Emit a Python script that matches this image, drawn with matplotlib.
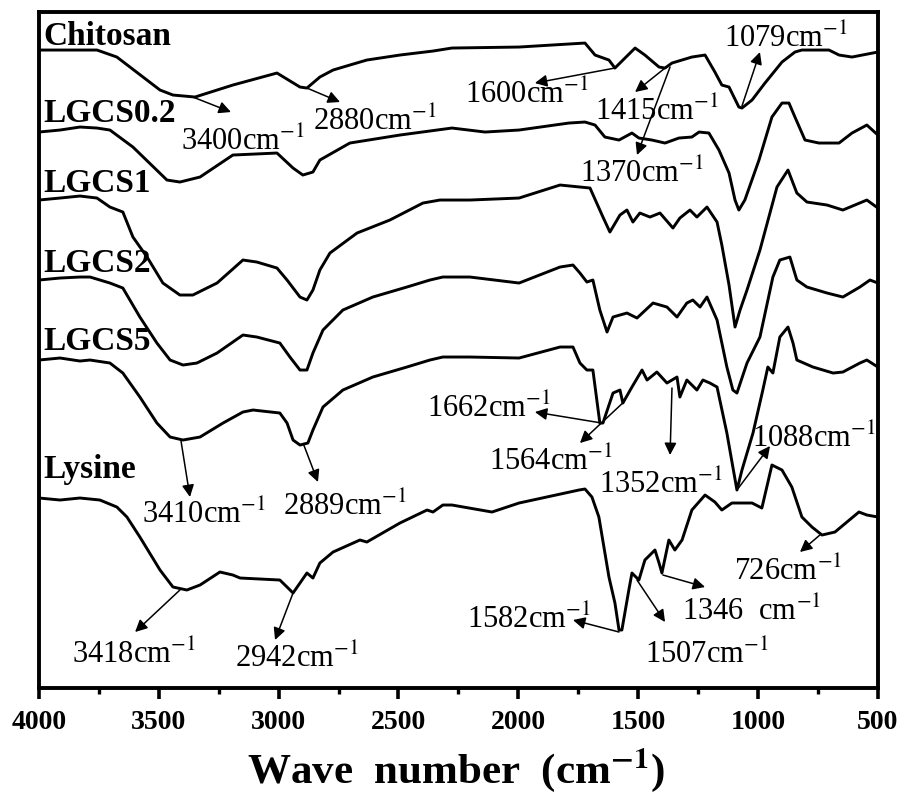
import matplotlib
matplotlib.use("Agg")
import matplotlib.pyplot as plt

plt.rcParams['font.family'] = ['Liberation Serif', 'DejaVu Serif']
plt.rcParams['mathtext.fontset'] = 'stix'

# Spectra: wavenumber (cm-1) and stacked transmittance (a.u.)
chitosan_wn = [4000, 3758, 3675, 3495, 3441, 3349, 3191, 3007, 2911, 2882, 2828, 2773, 2703, 2632,
               2494, 2356, 2277, 1997, 1860, 1722, 1680, 1622, 1597, 1555, 1513, 1472, 1413, 1388,
               1359, 1276, 1221, 1180, 1151, 1121, 1080, 1067, 1025, 971, 900, 846, 817, 704, 662,
               608, 500]
chitosan_t = [638, 638, 631, 598, 593, 591, 603, 615, 601, 600, 611, 618, 623, 628,
              633, 637, 640, 641, 643, 645, 633, 628, 620, 630, 640, 633, 621, 620,
              625, 631, 633, 616, 603, 601, 581, 580, 588, 605, 626, 636, 638, 638, 633,
              631, 636]

lgcs02_wn = [4000, 3912, 3829, 3758, 3704, 3608, 3466, 3412, 3328, 3191, 3007, 2940, 2899, 2857,
             2828, 2703, 2494, 2277, 2139, 1997, 1789, 1722, 1680, 1639, 1580, 1526, 1497, 1443,
             1388, 1330, 1276, 1246, 1205, 1163, 1121, 1096, 1080, 1055, 996, 942, 900, 871,
             846, 804, 746, 662, 608, 546, 500]
lgcs02_t = [556, 558, 561, 560, 558, 541, 508, 506, 511, 533, 535, 520, 513, 516,
            528, 545, 553, 560, 556, 558, 565, 566, 563, 551, 548, 555, 550, 548,
            545, 550, 551, 556, 555, 538, 515, 488, 478, 488, 528, 571, 585, 585,
            571, 548, 545, 545, 555, 563, 553]

lgcs1_wn = [4000, 3912, 3829, 3758, 3704, 3650, 3608, 3549, 3483, 3412, 3358, 3257, 3149, 3091,
            3007, 2965, 2911, 2882, 2857, 2828, 2786, 2673, 2536, 2398, 2327, 2202, 1997, 1826,
            1701, 1647, 1618, 1576, 1547, 1522, 1493, 1451, 1409, 1355, 1326, 1284, 1255, 1213,
            1171, 1151, 1121, 1096, 1075, 1046, 992, 921, 875, 838, 796, 712, 646, 546, 500]
lgcs1_t = [488, 490, 492, 490, 481, 476, 451, 431, 405, 393, 393, 405, 428, 426,
           420, 408, 391, 388, 398, 418, 435, 455, 468, 485, 488, 488, 490, 503,
           500, 471, 456, 473, 478, 466, 475, 471, 475, 460, 470, 478, 471, 481,
           466, 443, 403, 361, 378, 398, 438, 501, 518, 495, 486, 483, 478, 488, 480]

lgcs2_wn = [4000, 3912, 3829, 3787, 3704, 3650, 3579, 3508, 3453, 3399, 3341, 3257, 3149, 3091,
            2995, 2953, 2911, 2882, 2857, 2815, 2732, 2607, 2465, 2369, 2315, 2202, 1997, 1826,
            1772, 1743, 1714, 1689, 1660, 1630, 1605, 1547, 1505, 1438, 1380, 1338, 1297, 1272,
            1242, 1213, 1171, 1130, 1105, 1088, 1046, 992, 938, 909, 867, 838, 796, 712, 646,
            575, 533, 500]
lgcs2_t = [408, 410, 411, 411, 405, 400, 371, 345, 328, 323, 325, 335, 353, 351,
           345, 331, 318, 318, 335, 358, 378, 391, 401, 408, 411, 411, 405, 421,
           423, 415, 406, 408, 378, 356, 371, 375, 370, 385, 381, 371, 385, 388,
           381, 391, 368, 321, 298, 295, 325, 351, 411, 428, 431, 408, 401, 395, 391,
           401, 408, 405]

lgcs5_wn = [4000, 3912, 3829, 3787, 3704, 3650, 3579, 3508, 3453, 3399, 3328, 3232, 3149, 3107,
            2995, 2965, 2940, 2911, 2878, 2857, 2815, 2732, 2607, 2465, 2369, 2315, 2202, 1997,
            1826, 1772, 1743, 1714, 1689, 1660, 1647, 1605, 1576, 1564, 1526, 1484, 1463, 1422,
            1380, 1338, 1326, 1297, 1255, 1230, 1201, 1171, 1130, 1105, 1088, 1067, 1021, 980,
            959, 938, 909, 875, 854, 838, 771, 687, 646, 575, 546, 500]
lgcs5_t = [328, 330, 327, 328, 325, 315, 291, 265, 251, 248, 251, 265, 276, 278,
           275, 265, 248, 243, 245, 258, 281, 298, 311, 321, 328, 331, 331, 330,
           341, 341, 325, 318, 318, 265, 265, 295, 298, 285, 301, 318, 308, 316,
           305, 311, 291, 308, 298, 308, 305, 301, 255, 221, 198, 218, 255, 298,
           321, 315, 351, 361, 345, 328, 321, 315, 316, 325, 328, 321]

lysine_wn = [4000, 3912, 3829, 3746, 3675, 3633, 3579, 3495, 3441, 3383, 3328, 3245, 3191, 3161,
             2995, 2965, 2940, 2911, 2882, 2857, 2828, 2773, 2661, 2632, 2494, 2381, 2356, 2315,
             2277, 2110, 1997, 1747, 1722, 1693, 1664, 1622, 1597, 1580, 1568, 1539, 1526, 1497,
             1472, 1430, 1413, 1401, 1372, 1347, 1317, 1276, 1221, 1180, 1151, 1109, 1025, 984,
             942, 900, 859, 817, 775, 733, 679, 579, 546, 500]
lysine_t = [190, 188, 190, 188, 181, 171, 151, 118, 101, 98, 103, 116, 113, 110,
            108, 101, 95, 105, 115, 110, 125, 136, 148, 146, 165, 178, 176, 183,
            183, 176, 185, 198, 199, 191, 171, 111, 85, 58, 58, 98, 115, 108,
            128, 138, 125, 115, 148, 138, 148, 178, 193, 186, 178, 185, 185, 180,
            223, 218, 201, 171, 161, 153, 156, 176, 173, 171]

spectra = [
    ("Chitosan", chitosan_wn, chitosan_t, (3983, 643)),
    ("LGCS0.2", lgcs02_wn, lgcs02_t, (3983, 566)),
    ("LGCS1", lgcs1_wn, lgcs1_t, (3983, 496)),
    ("LGCS2", lgcs2_wn, lgcs2_t, (3983, 416)),
    ("LGCS5", lgcs5_wn, lgcs5_t, (3983, 338)),
    ("Lysine", lysine_wn, lysine_t, (3983, 210)),
]

# peak labels: text, text anchor, arrow start (on curve), arrow tip
peaks = [
    ("3400", (3408, 538), (3358, 591), (3199, 576)),
    ("2880", (2857, 558), (2882, 600), (2744, 586)),
    ("1600", (2223, 585), (1597, 620), (1931, 605)),
    ("1415", (1680, 568), (1388, 620), (1513, 596)),
    ("1370", (1743, 506), (1367, 621), (1505, 533)),
    ("1079", (1142, 641), (1067, 582), (992, 636)),
    ("1662", (2381, 271), (1652, 265), (1931, 276)),
    ("1564", (2123, 218), (1560, 286), (1743, 245)),
    ("1352", (1664, 195), (1359, 300), (1367, 233)),
    ("1088", (1025, 241), (1088, 198), (950, 242)),
    ("3410", (3570, 165), (3408, 248), (3370, 191)),
    ("2889", (2982, 173), (2895, 243), (2836, 206)),
    ("3418", (3862, 25), (3412, 98), (3599, 56)),
    ("2942", (3182, 21), (2940, 95), (3015, 48)),
    ("1582", (2214, 60), (1580, 56), (1772, 68)),
    ("1507", (1472, 25), (1505, 108), (1388, 66)),
    ("1346  ", (1317, 68), (1397, 113), (1221, 101)),
    ("726", (1100, 108), (742, 153), (825, 136)),
]

fig = plt.figure(figsize=(9.04, 7.92), dpi=100)
ax = fig.add_axes([0.0431, 0.1313, 0.928, 0.8535])

for name, wn, t, pos in spectra:
    ax.plot(wn, t, color='black', lw=2.1, solid_joinstyle='round')
    ax.text(pos[0], pos[1], name, fontsize=24, fontweight='bold', ha='left', va='baseline')

for label, tpos, start, tip in peaks:
    ax.annotate('', xy=tip, xytext=start,
                arrowprops=dict(arrowstyle='-|>', color='black', lw=1.1,
                                mutation_scale=18, shrinkA=0, shrinkB=0))
    ax.text(tpos[0], tpos[1], label + "cm$^{-1}$", fontsize=22, ha='left', va='baseline')

ax.set_xlim(4000, 500)
ax.set_ylim(0, 676)
ax.set_xticks([4000, 3500, 3000, 2500, 2000, 1500, 1000, 500])
ax.set_xticks([3750, 3250, 2750, 2250, 1750, 1250, 750], minor=True)
ax.set_yticks([])
ax.tick_params(axis='x', which='major', direction='out', length=8, width=2.6, pad=8, labelsize=20)
ax.tick_params(axis='x', which='minor', direction='out', length=4, width=2.4)
for lab in ax.get_xticklabels():
    lab.set_fontweight('bold')
for sp in ax.spines.values():
    sp.set_linewidth(2.8)

fig.text(0.504, 0.012, "Wave  number  (cm$^{\\mathbf{-1}}$)", fontsize=31, fontweight='bold',
         ha='center', va='baseline')

fig.savefig("out.png", dpi=100)
